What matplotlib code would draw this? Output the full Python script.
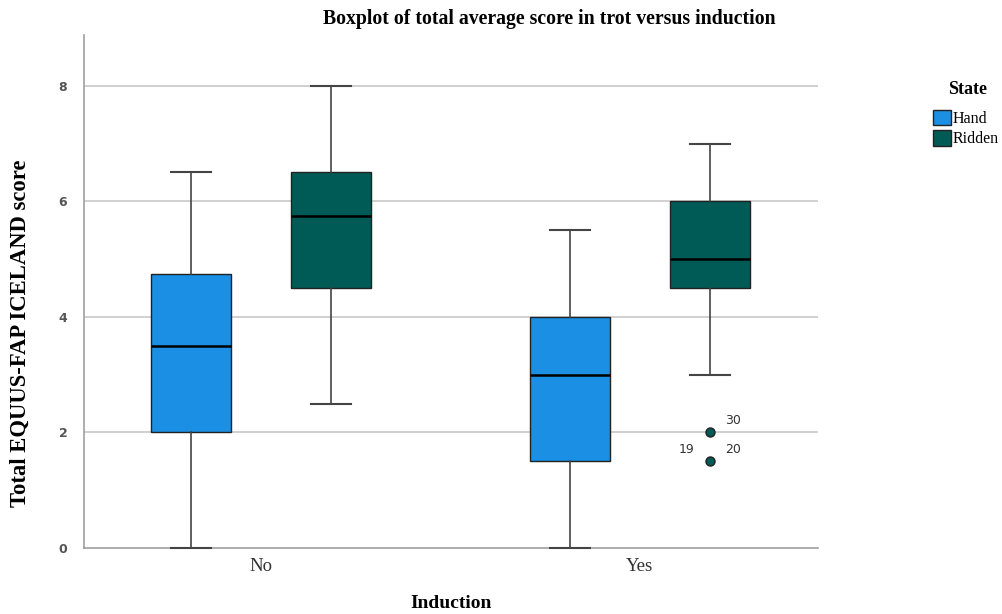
import matplotlib
matplotlib.use("Agg")
import matplotlib.pyplot as plt
from matplotlib.patches import Patch

groups = ["No", "Yes"]
states = ["Hand", "Ridden"]
# five-number summaries per group/state: [whislo, q1, med, q3, whishi]
no_hand = [0.0, 2.0, 3.5, 4.75, 6.5]
no_ridden = [2.5, 4.5, 5.75, 6.5, 8.0]
yes_hand = [0.0, 1.5, 3.0, 4.0, 5.5]
yes_ridden = [3.0, 4.5, 5.0, 6.0, 7.0]
yes_ridden_outliers = [2.0, 1.5]
outlier_labels = [("30", 2.0, "right"), ("19", 1.5, "left"), ("20", 1.5, "right")]

colors = {"Hand": "#1a8fe3", "Ridden": "#005a55"}

fig = plt.figure(figsize=(10.03, 6.14), dpi=100)
ax = fig.add_axes([84/1003, 66/614, 734/1003, 513/614])

def mk(vals, fliers=()):
    return dict(whislo=vals[0], q1=vals[1], med=vals[2], q3=vals[3], whishi=vals[4], fliers=list(fliers))

stats = [mk(no_hand), mk(no_ridden), mk(yes_hand), mk(yes_ridden, yes_ridden_outliers)]
offset = 0.185
positions = [0 - offset, 0 + offset, 1 - offset, 1 + offset]
cols = [colors["Hand"], colors["Ridden"], colors["Hand"], colors["Ridden"]]

bp = ax.bxp(stats, positions=positions, widths=0.211, patch_artist=True,
            capwidths=0.105,
            medianprops=dict(color="black", linewidth=1.8, zorder=4),
            whiskerprops=dict(color="#444444", linewidth=1.2, zorder=3),
            capprops=dict(color="#444444", linewidth=1.5, zorder=3),
            boxprops=dict(edgecolor="#222222", linewidth=1.0, zorder=3),
            flierprops=dict(marker="o", markerfacecolor=colors["Ridden"],
                            markeredgecolor="#222222", markersize=6.5, zorder=3))
for patch, c in zip(bp["boxes"], cols):
    patch.set_facecolor(c)
for ln in bp["caps"] + bp["whiskers"]:
    ln.set_clip_on(False)

for lab, yv, side in outlier_labels:
    dx = 0.04 if side == "right" else -0.04
    ha = "left" if side == "right" else "right"
    ax.text(positions[3] + dx, yv + 0.2, lab, ha=ha, va="center",
            fontsize=9, color="#333333", family="DejaVu Sans")

ax.set_xlim(-0.467, 1.47)
ax.set_ylim(0, 8.88)
ax.set_xticks([0, 1])
ax.set_xticklabels(groups, family="Liberation Serif", fontsize=13.5, color="#333333")
ax.set_yticks([0, 2, 4, 6, 8])
ax.set_yticklabels(["0", "2", "4", "6", "8"], family="DejaVu Sans", fontsize=9,
                   fontweight="bold", color="#555555")
ax.tick_params(axis="both", length=0)
ax.tick_params(axis="y", pad=12)
ax.tick_params(axis="x", pad=7)
for y in [2, 4, 6, 8]:
    ax.axhline(y, color="#c8c8c8", linewidth=1.2, zorder=0)
for s in ["top", "right"]:
    ax.spines[s].set_visible(False)
for s in ["left", "bottom"]:
    ax.spines[s].set_color("#a0a0a0")
    ax.spines[s].set_linewidth(1.2)

fig.text(549/1003, 1 - 19/614, "Boxplot of total average score in trot versus induction",
         ha="center", va="center", family="Liberation Serif", fontweight="bold", fontsize=14.2)
fig.text(451/1003, 1 - 604/614, "Induction", ha="center", va="center",
         family="Liberation Serif", fontweight="bold", fontsize=14)
fig.text(20/1003, 1 - 333/614, "Total EQUUS-FAP ICELAND score", ha="center", va="center",
         rotation=90, family="Liberation Serif", fontweight="bold", fontsize=16.3)

fig.text(968/1003, 1 - 90/614, "State", ha="center", va="center",
         family="Liberation Serif", fontweight="bold", fontsize=13)
handles = [Patch(facecolor=colors[s], edgecolor="#222222", label=s) for s in states]
leg = fig.legend(handles=handles, loc="upper left",
                 bbox_to_anchor=(933/1003, 1 - 110/614), frameon=False,
                 prop=dict(family="Liberation Serif", size=11.5),
                 handlelength=1.1, handleheight=1.1, handletextpad=0.15,
                 labelspacing=0.2, borderpad=0, borderaxespad=0)

fig.savefig("out.png", dpi=100)
